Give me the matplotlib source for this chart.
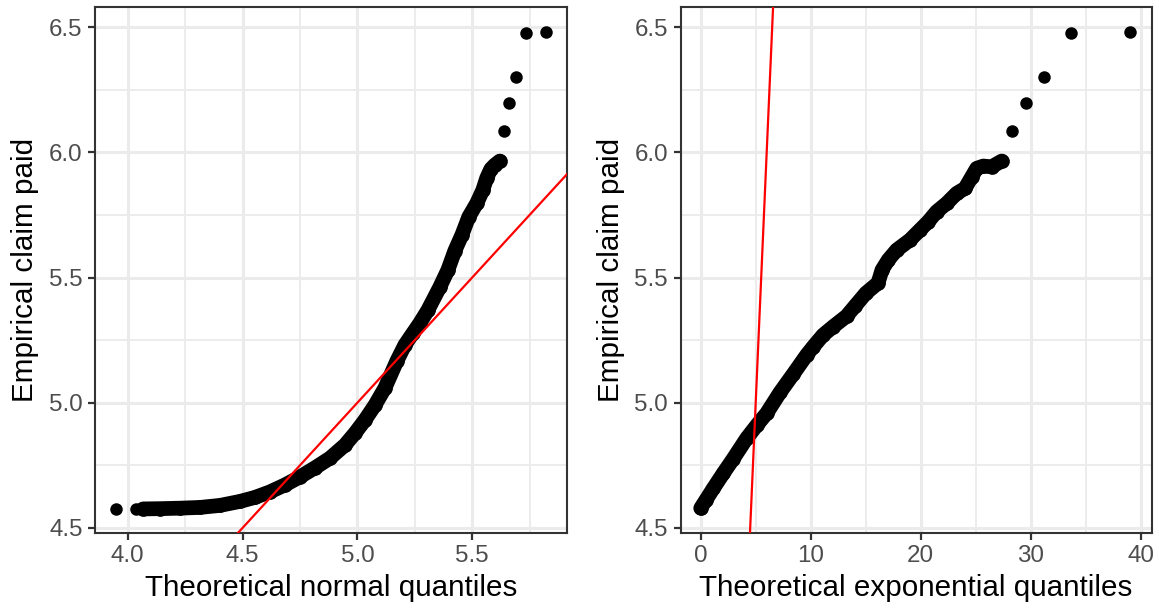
import matplotlib
matplotlib.use('Agg')
import matplotlib.pyplot as plt
from matplotlib.ticker import MultipleLocator, FormatStrFormatter

plt.rcParams['font.family'] = ['Liberation Sans', 'DejaVu Sans']

# empirical claim paid vs fitted normal quantiles (dense part of the cloud)
norm_x = [4.067, 4.141, 4.228, 4.315, 4.402, 4.489, 4.554, 4.619, 4.685, 4.750,
          4.815, 4.881, 4.946, 4.990, 5.033, 5.077, 5.120, 5.172, 5.207, 5.242,
          5.272, 5.307, 5.359, 5.394, 5.424, 5.455, 5.485, 5.520, 5.546, 5.563,
          5.581, 5.598, 5.620]
norm_y = [4.576, 4.577, 4.579, 4.582, 4.590, 4.606, 4.622, 4.644, 4.672, 4.704,
          4.740, 4.779, 4.831, 4.879, 4.931, 4.991, 5.059, 5.167, 5.231, 5.278,
          5.318, 5.370, 5.462, 5.530, 5.606, 5.670, 5.742, 5.797, 5.849, 5.897,
          5.933, 5.949, 5.965]
# isolated points at both ends
norm_lone_x = [3.949, 4.036, 5.639, 5.661, 5.692, 5.735, 5.820]
norm_lone_y = [4.576, 4.576, 6.085, 6.198, 6.302, 6.475, 6.481]

# same claims vs fitted exponential quantiles
exp_x = [0.00, 0.48, 1.15, 2.05, 2.94, 4.18, 5.12, 6.00, 7.21, 8.42,
         9.64, 10.24, 11.12, 12.05, 13.27, 14.03, 15.03, 16.12, 16.48, 17.05,
         17.82, 19.03, 19.94, 20.69, 21.45, 22.36, 23.27, 24.03, 24.64, 25.09,
         25.69, 26.45, 27.36]
exp_y = [4.579, 4.612, 4.658, 4.718, 4.775, 4.858, 4.911, 4.958, 5.041, 5.115,
         5.191, 5.224, 5.270, 5.304, 5.346, 5.386, 5.438, 5.478, 5.530, 5.570,
         5.610, 5.650, 5.690, 5.723, 5.763, 5.796, 5.836, 5.856, 5.902, 5.936,
         5.945, 5.942, 5.965]
exp_lone_x = [28.30, 29.55, 31.18, 33.69, 39.03]
exp_lone_y = [6.085, 6.198, 6.302, 6.475, 6.481]

dot = 9.0    # single marker diameter in pt
band = 10.6  # overlapping markers look a bit wider


def qq_panel(ax, band_x, band_y, lone_x, lone_y, xlim, xstep, xfmt, xlabel):
    # the dense run of overlapping points, drawn as a round-capped band
    ax.plot(band_x, band_y, color='black', lw=band, solid_joinstyle='round',
            solid_capstyle='round', zorder=3)
    ax.plot(band_x, band_y, 'o', color='black', ms=band, mew=0, zorder=3)
    ax.plot(lone_x, lone_y, 'o', color='black', ms=dot, mew=0, zorder=3)
    ax.axline((0, 0), slope=1, color='red', lw=1.6, zorder=4)

    ax.set_xlim(xlim)
    ax.set_ylim(4.481, 6.58)
    ax.xaxis.set_major_locator(MultipleLocator(xstep))
    ax.xaxis.set_minor_locator(MultipleLocator(xstep / 2))
    ax.xaxis.set_major_formatter(FormatStrFormatter(xfmt))
    ax.yaxis.set_major_locator(MultipleLocator(0.5))
    ax.yaxis.set_minor_locator(MultipleLocator(0.25))
    ax.yaxis.set_major_formatter(FormatStrFormatter('%.1f'))

    ax.grid(which='major', color='#EBEBEB', lw=2.2)
    ax.grid(which='minor', color='#EBEBEB', lw=1.3)
    ax.set_axisbelow(True)
    ax.tick_params(which='major', length=5, width=1.6, color='#333333',
                   labelcolor='#4D4D4D', labelsize=17.4, pad=4)
    ax.tick_params(which='minor', length=0)
    for s in ax.spines.values():
        s.set_color('#333333')
        s.set_linewidth(1.5)

    ax.set_xlabel(xlabel, fontsize=21.3, labelpad=5)
    ax.set_ylabel('Empirical claim paid', fontsize=21.3, labelpad=7)


fig = plt.figure(figsize=(11.59, 6.10), dpi=100)
ax1 = fig.add_axes([0.0820, 0.1267, 0.4075, 0.8618])
ax2 = fig.add_axes([0.5872, 0.1267, 0.4065, 0.8618])

qq_panel(ax1, norm_x, norm_y, norm_lone_x, norm_lone_y, (3.858, 5.914), 0.5, '%.1f',
         'Theoretical normal quantiles')
qq_panel(ax2, exp_x, exp_y, exp_lone_x, exp_lone_y, (-1.83, 41.0), 10, '%d',
         'Theoretical exponential quantiles')

fig.savefig('out.png', dpi=100)
